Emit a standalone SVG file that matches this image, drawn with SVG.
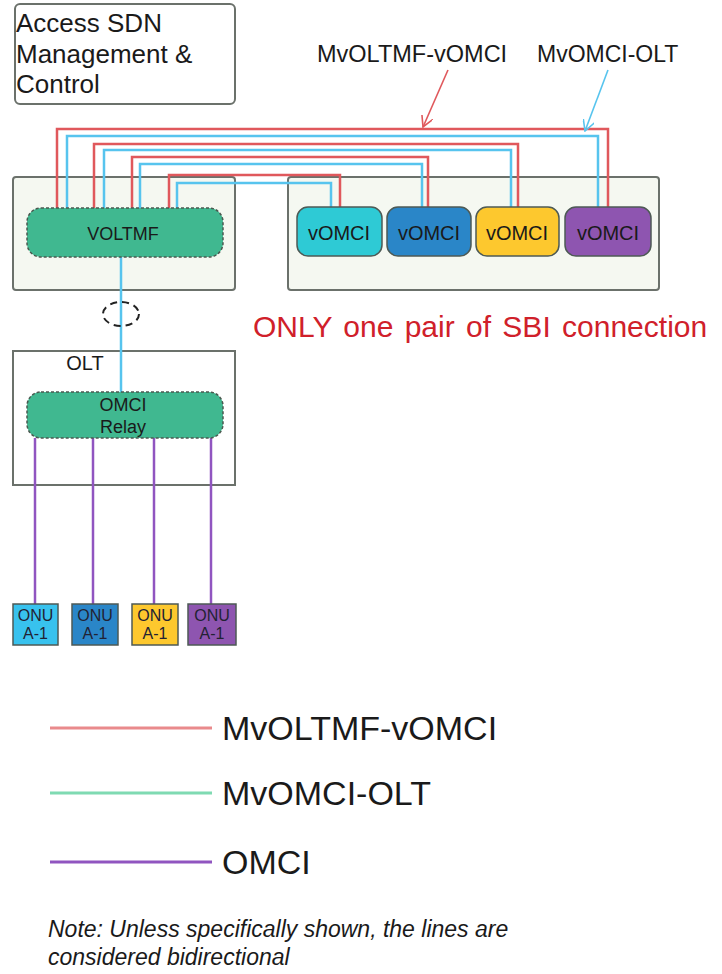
<svg xmlns="http://www.w3.org/2000/svg" width="722" height="974" viewBox="0 0 722 974">
<defs>
<style>
text{font-family:"Liberation Sans",Arial,sans-serif;fill:#1a1a1a}
.box{fill:#f5f8f1;stroke:#6b716b;stroke-width:2}
.green{fill:#40b890;stroke:#4a5a50;stroke-width:1.5;stroke-dasharray:3 2}
.vom{stroke:#4d5a55;stroke-width:1.5}
.red{fill:none;stroke:#e0585c;stroke-width:2.5}
.blue{fill:none;stroke:#57c4ee;stroke-width:2.5}
.purple{fill:none;stroke:#9055c0;stroke-width:2.5}
.t18{font-size:18px;text-anchor:middle}
.t20{font-size:20px;text-anchor:middle}
.onu{font-size:16px;text-anchor:middle;fill:#223}
.leg{font-size:34px}
</style>
<marker id="ar" viewBox="0 0 12 12" refX="11" refY="6" markerWidth="12" markerHeight="12" markerUnits="userSpaceOnUse" orient="auto"><path d="M0,0 L11,6 L0,12" fill="none" stroke="#e0585c" stroke-width="1.6"/></marker>
<marker id="ab" viewBox="0 0 12 12" refX="11" refY="6" markerWidth="12" markerHeight="12" markerUnits="userSpaceOnUse" orient="auto"><path d="M0,0 L11,6 L0,12" fill="none" stroke="#57c4ee" stroke-width="1.6"/></marker>
</defs>

<g id="access-sdn">
<rect x="15" y="4" width="220" height="100" rx="5" fill="#fff" stroke="#6b716b" stroke-width="2"/>
<text x="16" y="32" font-size="26">Access SDN</text>
<text x="16" y="63" font-size="26">Management &amp;</text>
<text x="16" y="93" font-size="26">Control</text>
</g>

<g id="left-container"><rect class="box" x="13" y="177" width="222" height="113" rx="3"/></g>
<g id="right-container"><rect class="box" x="288" y="177" width="371" height="113" rx="3"/></g>
<g id="olt">
<rect x="13" y="351" width="222" height="134" fill="#fff" stroke="#6b716b" stroke-width="2"/>
<text x="85" y="370" class="t20">OLT</text>
</g>

<g id="connectors">
<path class="red" d="M57,208 V129 H608 V207"/>
<path class="blue" d="M67,208 V136 H598 V207"/>
<path class="red" d="M94,208 V144 H518 V207"/>
<path class="blue" d="M104,208 V150 H511 V207"/>
<path class="red" d="M132,208 V157 H428 V207"/>
<path class="blue" d="M140,208 V164 H422 V207"/>
<path class="red" d="M169,208 V175 H340 V207"/>
<path class="blue" d="M177,208 V183 H331 V207"/>
<path class="blue" d="M121,257 V393"/>
<path class="purple" d="M35,438 V604"/>
<path class="purple" d="M93,438 V604"/>
<path class="purple" d="M154,438 V604"/>
<path class="purple" d="M211,438 V604"/>
<path d="M448,70 L423,127" fill="none" stroke="#e0585c" stroke-width="1.6" marker-end="url(#ar)"/>
<path d="M608,70 L585,131" fill="none" stroke="#57c4ee" stroke-width="1.6" marker-end="url(#ab)"/>
</g>

<g id="voltmf">
<rect class="green" x="27" y="208" width="196" height="49" rx="14"/>
<text x="123" y="240" class="t18">VOLTMF</text>
</g>

<g id="vomci1"><rect class="vom" x="297" y="207" width="85" height="49" rx="11" fill="#2ecad5"/><text x="339" y="240" class="t20">vOMCI</text></g>
<g id="vomci2"><rect class="vom" x="387" y="207" width="84" height="49" rx="11" fill="#2a86c8"/><text x="429" y="240" class="t20">vOMCI</text></g>
<g id="vomci3"><rect class="vom" x="476" y="207" width="83" height="49" rx="11" fill="#fdc82e"/><text x="517" y="240" class="t20">vOMCI</text></g>
<g id="vomci4"><rect class="vom" x="565" y="207" width="86" height="49" rx="11" fill="#8e55b0"/><text x="608" y="240" class="t20">vOMCI</text></g>

<g id="ellipse"><ellipse cx="121" cy="314" rx="18" ry="12" fill="none" stroke="#222" stroke-width="2" stroke-dasharray="7 5"/></g>

<g id="omci-relay">
<rect class="green" x="27" y="392" width="196" height="46" rx="14"/>
<text x="123" y="411" class="t18">OMCI</text>
<text x="123" y="433" class="t18">Relay</text>
</g>

<g id="onu1"><rect class="vom" x="13" y="604" width="45" height="41" fill="#38c2ee"/><text x="35.5" y="621" class="onu">ONU</text><text x="35.5" y="639" class="onu">A-1</text></g>
<g id="onu2"><rect class="vom" x="72" y="604" width="46" height="41" fill="#2a86c8"/><text x="95" y="621" class="onu">ONU</text><text x="95" y="639" class="onu">A-1</text></g>
<g id="onu3"><rect class="vom" x="132" y="604" width="46" height="41" fill="#fdc82e"/><text x="155" y="621" class="onu">ONU</text><text x="155" y="639" class="onu">A-1</text></g>
<g id="onu4"><rect class="vom" x="188" y="604" width="48" height="41" fill="#8e55b0"/><text x="212" y="621" class="onu">ONU</text><text x="212" y="639" class="onu">A-1</text></g>

<g id="labels">
<text x="317" y="62" font-size="23.5">MvOLTMF-vOMCI</text>
<text x="537" y="62" font-size="23">MvOMCI-OLT</text>
<text x="253" y="337" font-size="30" word-spacing="3" style="fill:#d0202a">ONLY one pair of SBI connection</text>
</g>

<g id="legend">
<line x1="50" y1="728" x2="212" y2="728" stroke="#e98a8c" stroke-width="3"/>
<text x="222" y="740" class="leg">MvOLTMF-vOMCI</text>
<line x1="50" y1="793" x2="212" y2="793" stroke="#7fdab2" stroke-width="3"/>
<text x="222" y="805" class="leg">MvOMCI-OLT</text>
<line x1="50" y1="862" x2="212" y2="862" stroke="#9055c0" stroke-width="3"/>
<text x="222" y="874" class="leg">OMCI</text>
<text x="48" y="937" font-size="23" font-style="italic">Note: Unless specifically shown, the lines are</text>
<text x="48" y="965" font-size="23" font-style="italic">considered bidirectional</text>
</g>
</svg>
